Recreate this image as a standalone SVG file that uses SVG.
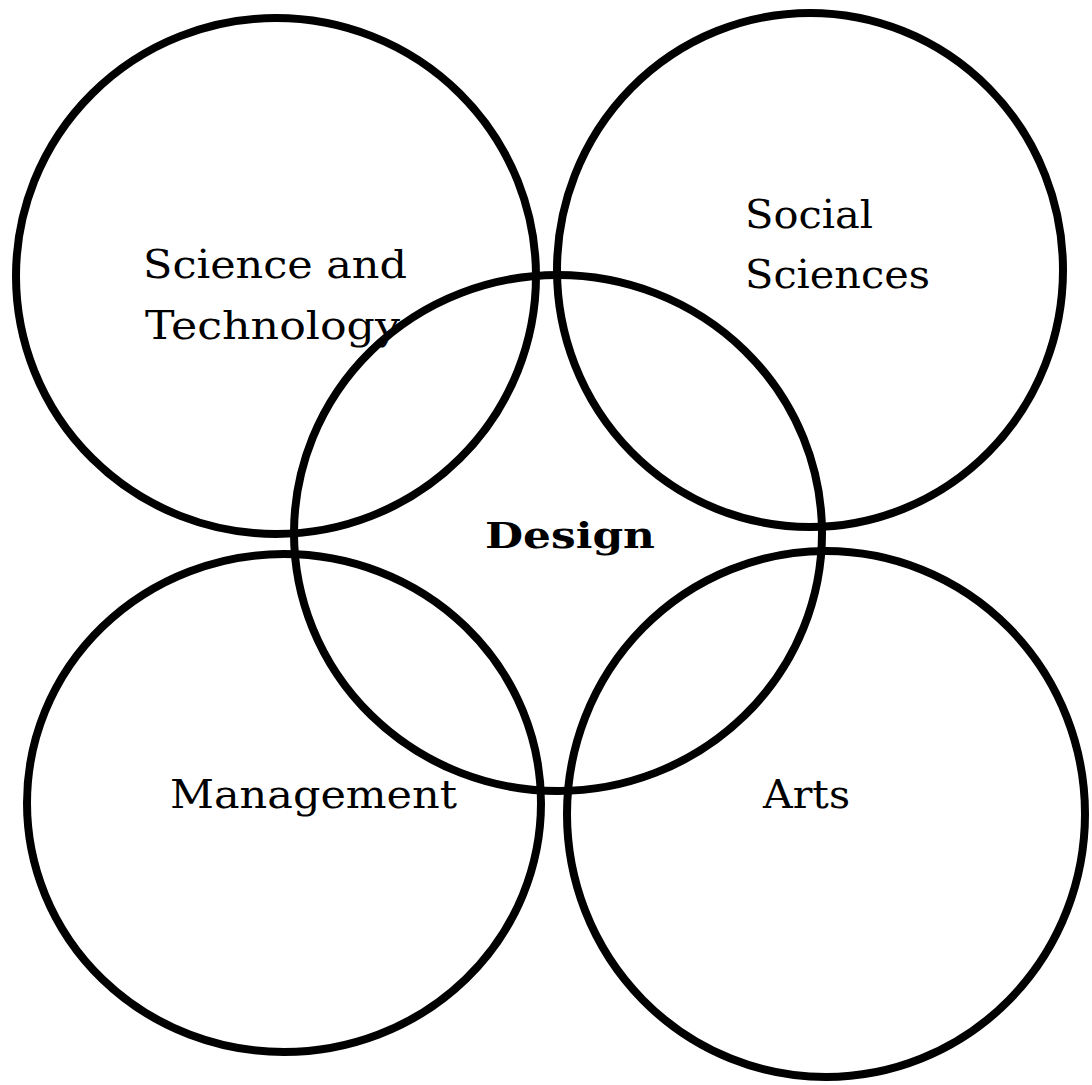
<svg xmlns="http://www.w3.org/2000/svg" width="1092" height="1085" viewBox="0 0 1092 1085">
<style>
.ring{fill:none;stroke:#000;stroke-width:8}
.lbl{font-family:"DejaVu Serif","Liberation Serif",serif;font-size:40px;fill:#000}
.bold{font-weight:bold;font-size:35px}
</style>
<rect width="1092" height="1085" fill="#fff"/>
<g id="connectors"/>
<g id="node-science">
<ellipse class="ring" cx="276" cy="276" rx="260" ry="258"/>
<text class="lbl" x="143" y="278" textLength="264" lengthAdjust="spacingAndGlyphs">Science and</text>
<text class="lbl" x="145" y="339" textLength="255" lengthAdjust="spacingAndGlyphs">Technology</text>
</g>
<g id="node-social">
<ellipse class="ring" cx="810" cy="270" rx="253" ry="257"/>
<text class="lbl" x="745" y="228" textLength="128" lengthAdjust="spacingAndGlyphs">Social</text>
<text class="lbl" x="745" y="288" textLength="185" lengthAdjust="spacingAndGlyphs">Sciences</text>
</g>
<g id="node-management">
<ellipse class="ring" cx="284" cy="803" rx="257" ry="249"/>
<text class="lbl" x="170" y="808" textLength="287" lengthAdjust="spacingAndGlyphs">Management</text>
</g>
<g id="node-arts">
<ellipse class="ring" cx="826" cy="814" rx="259" ry="263"/>
<text class="lbl" x="763" y="808" textLength="87" lengthAdjust="spacingAndGlyphs">Arts</text>
</g>
<g id="node-design">
<ellipse class="ring" cx="558" cy="533" rx="264" ry="258"/>
<text class="lbl bold" x="485" y="548" textLength="170" lengthAdjust="spacingAndGlyphs">Design</text>
</g>
</svg>
